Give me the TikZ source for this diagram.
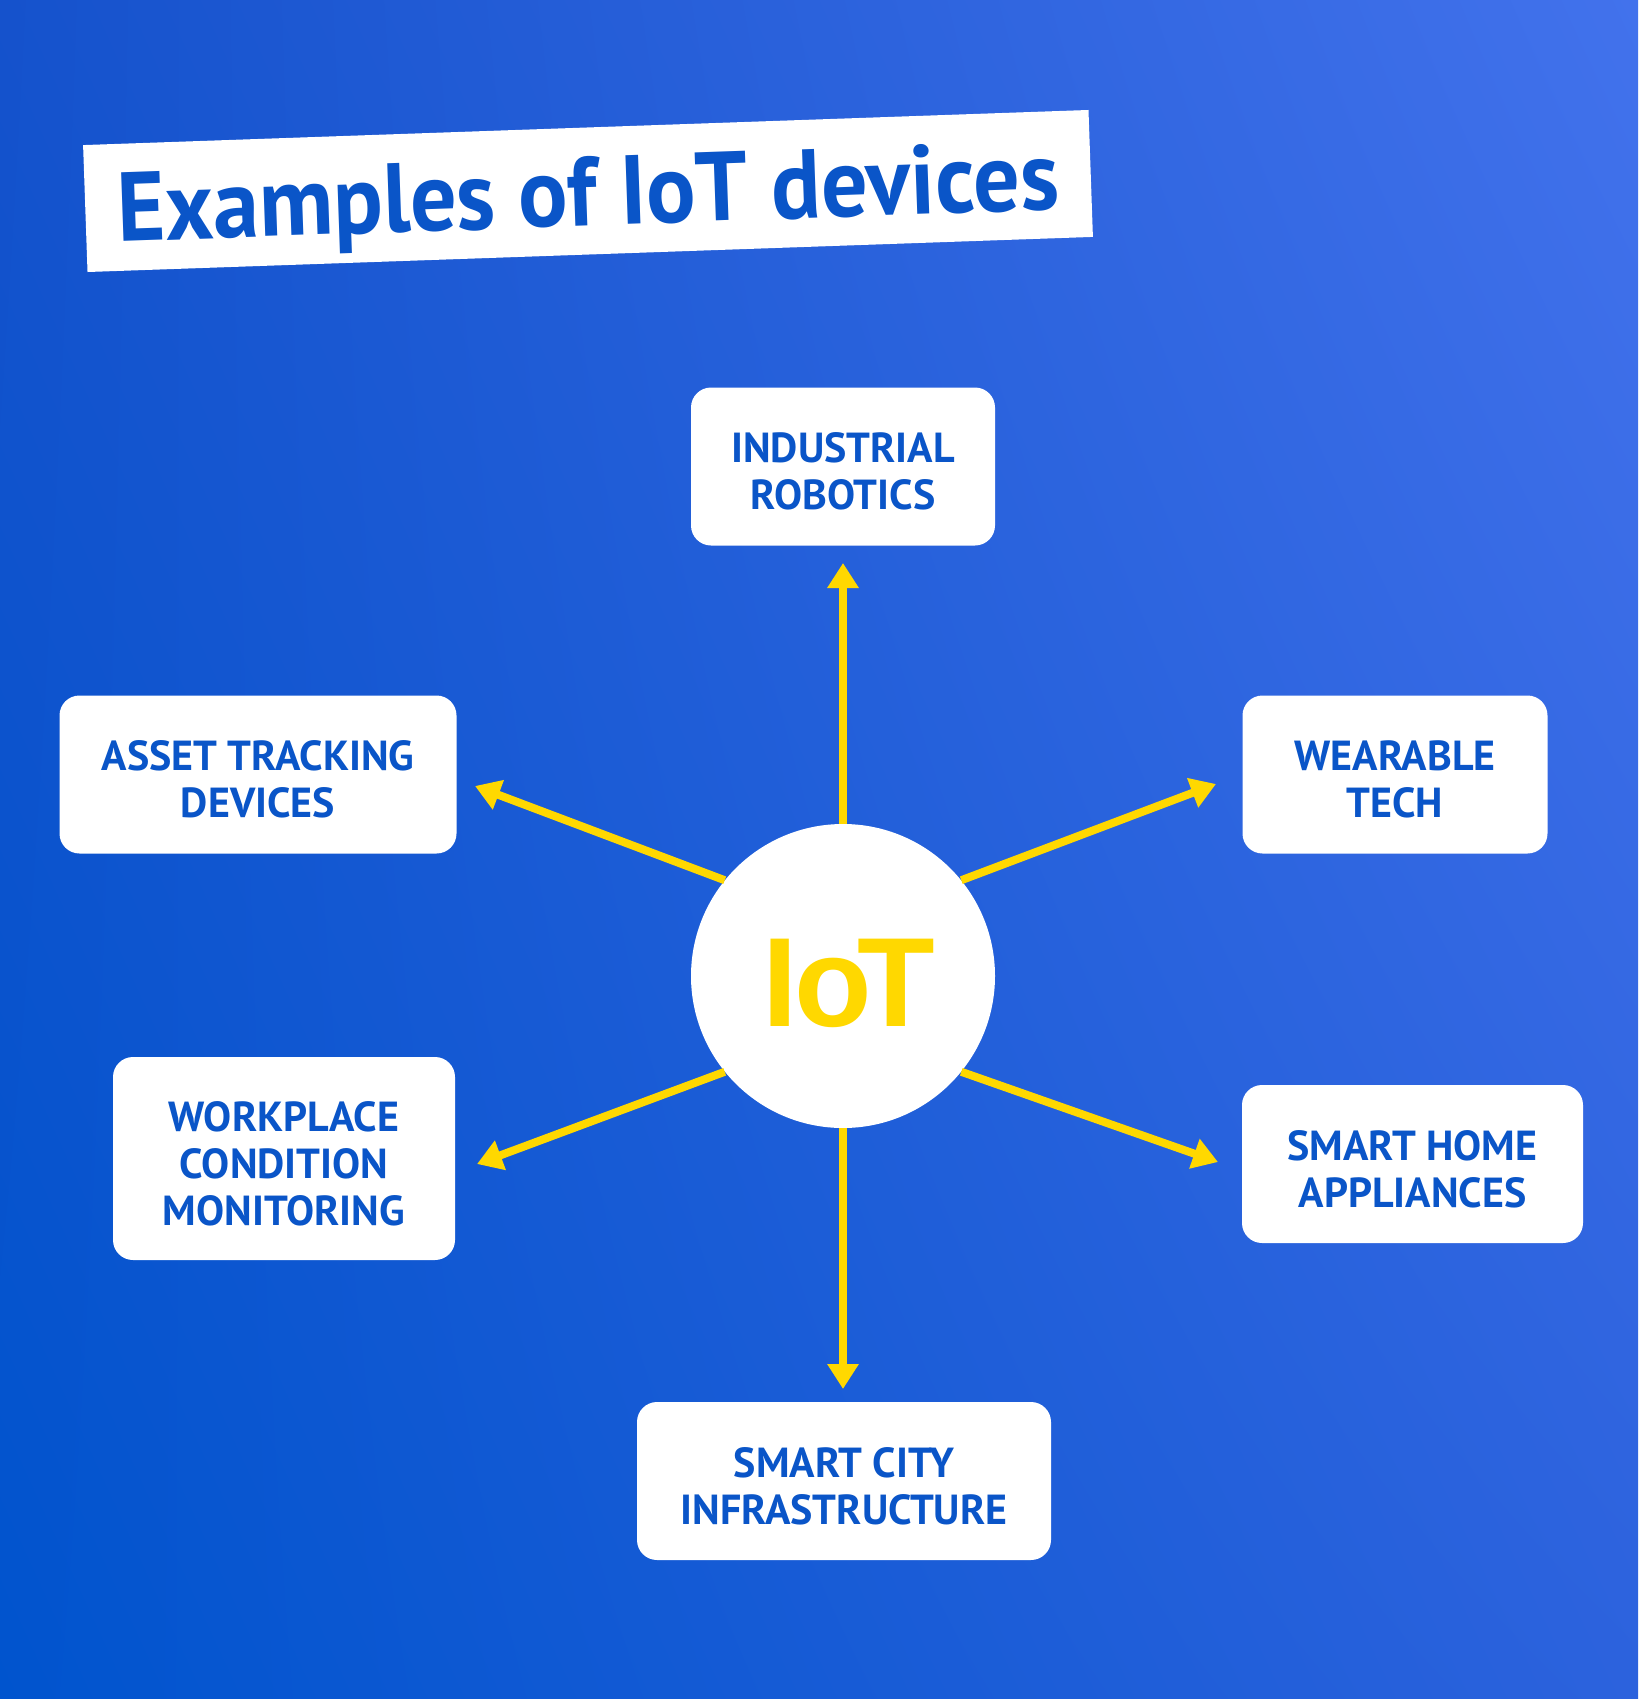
\documentclass[tikz,border=0pt]{standalone}
\usepackage{fontspec}
\setmainfont{PT Sans}
\newfontfamily\iotfont{Liberation Sans}
\newfontfamily\titlefont[FakeStretch=0.94]{PT Sans}
\usepackage{tikz}
\usetikzlibrary{arrows.meta,shadings}
\definecolor{bgtl}{HTML}{1552CC}
\definecolor{bgtr}{HTML}{4272EC}
\definecolor{bgbl}{HTML}{0054CE}
\definecolor{bgbr}{HTML}{2C62DD}
\definecolor{txtblue}{HTML}{0A55C8}
\definecolor{iotyellow}{HTML}{FFD800}
\tikzset{
	devicebox/.style={fill=white, rounded corners=20pt, minimum width=#1, minimum height=158pt, inner sep=0pt},
	devicetext/.style={align=center, text=txtblue, font=\bfseries\fontsize{42}{47}\selectfont, yshift=-5pt},
	arrowline/.style={draw=iotyellow, line width=8pt, ->}
}
\begin{document}
\begin{tikzpicture}[x=1pt,y=-1pt,>={Triangle[length=25pt,width=30pt]}]
		\useasboundingbox (0,0) rectangle (1638,1699);
		%Sfondo
		\shade[upper left=bgtl, upper right=bgtr, lower left=bgbl, lower right=bgbr] (0,0) rectangle (1638,1699);
		%Titolo
		\node [fill=white, rotate=2, minimum width=1006pt, minimum height=127pt, inner sep=0pt,
			text height=69pt, text depth=0pt, text=txtblue, font=\titlefont\bfseries\fontsize{98}{98}\selectfont]
			(title) at (588,191) {Examples of IoT devices};
		%Centro
		\node [circle, fill=white, minimum size=304pt, inner sep=0pt, text=iotyellow,
			text height=100pt, text depth=0pt,
			font=\iotfont\bfseries\fontsize{127}{127}\selectfont] (iot) at (843,976) {\kern11pt I\kern-3pt o\kern-15pt T};
		%Riquadri
		\node [devicebox=304pt, label={[devicetext]center:{INDUSTRIAL\\ROBOTICS}}] (robotics) at (843,466.5) {};
		\node [devicebox=397pt, label={[devicetext]center:{ASSET TRACKING\\DEVICES}}] (asset) at (258,774.5) {};
		\node [devicebox=305pt, label={[devicetext]center:{WEARABLE\\TECH}}] (wearable) at (1395,774.5) {};
		\node [devicebox=342pt, minimum height=203pt, label={[devicetext]center:{WORKPLACE\\CONDITION\\MONITORING}}]
			(workplace) at (284,1158.5) {};
		\node [devicebox=341pt, label={[devicetext]center:{SMART HOME\\APPLIANCES}}] (smarthome) at (1412.5,1164) {};
		\node [devicebox=414pt, label={[devicetext]center:{SMART CITY\\INFRASTRUCTURE}}] (smartcity) at (844,1481) {};
		%Punte
		\coordinate (tipRobotics) at (843,563);
		\coordinate (tipAsset) at (475,786);
		\coordinate (tipWearable) at (1216,784);
		\coordinate (tipWorkplace) at (477,1164);
		\coordinate (tipSmarthome) at (1218,1162);
		\coordinate (tipSmartcity) at (843,1389);
		%Frecce
		\draw [arrowline] (iot.north) -- (tipRobotics);
		\draw [arrowline] (iot.141) -- (tipAsset);
		\draw [arrowline] (iot.39) -- (tipWearable);
		\draw [arrowline] (iot.-141) -- (tipWorkplace);
		\draw [arrowline] (iot.-39) -- (tipSmarthome);
		\draw [arrowline] (iot.south) -- (tipSmartcity);
	\end{tikzpicture}
\end{document}
